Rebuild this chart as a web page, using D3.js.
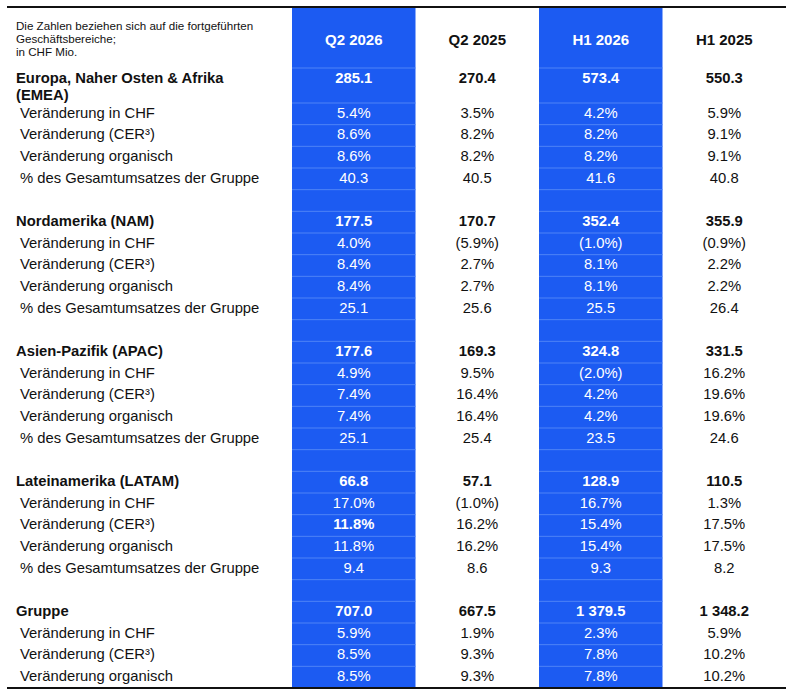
<!DOCTYPE html>
<html>
<head>
<meta charset="utf-8">
<script src="https://cdn.jsdelivr.net/npm/d3@7"></script>
<style>
  body { margin: 0; background: #fff; }
  svg text { font-family: "Liberation Sans", Arial, sans-serif; }
</style>
</head>
<body>
<div id="chart"></div>
<script>
// table content
const periods = ["Q2 2026", "Q2 2025", "H1 2026", "H1 2025"];
const regions = ["Europa, Naher Osten & Afrika (EMEA)", "Nordamerika (NAM)", "Asien-Pazifik (APAC)", "Lateinamerika (LATAM)", "Gruppe"];
const metrics = ["Veränderung in CHF", "Veränderung (CER³)", "Veränderung organisch", "% des Gesamtumsatzes der Gruppe"];
const noteLines = ["Die Zahlen beziehen sich auf die fortgeführten", "Geschäftsbereiche;", "in CHF Mio."];

// sales in CHF Mio., per period, one value per region
const salesQ2_2026 = [285.1, 177.5, 177.6, 66.8, 707.0];
const salesQ2_2025 = [270.4, 170.7, 169.3, 57.1, 667.5];
const salesH1_2026 = [573.4, 352.4, 324.8, 128.9, 1379.5];
const salesH1_2025 = [550.3, 355.9, 331.5, 110.5, 1348.2];

// change in CHF (%)
const chfQ2_2026 = [5.4, 4.0, 4.9, 17.0, 5.9];
const chfQ2_2025 = [3.5, -5.9, 9.5, -1.0, 1.9];
const chfH1_2026 = [4.2, -1.0, -2.0, 16.7, 2.3];
const chfH1_2025 = [5.9, -0.9, 16.2, 1.3, 5.9];

// change at constant exchange rates (%)
const cerQ2_2026 = [8.6, 8.4, 7.4, 11.8, 8.5];
const cerQ2_2025 = [8.2, 2.7, 16.4, 16.2, 9.3];
const cerH1_2026 = [8.2, 8.1, 4.2, 15.4, 7.8];
const cerH1_2025 = [9.1, 2.2, 19.6, 17.5, 10.2];

// organic change (%)
const orgQ2_2026 = [8.6, 8.4, 7.4, 11.8, 8.5];
const orgQ2_2025 = [8.2, 2.7, 16.4, 16.2, 9.3];
const orgH1_2026 = [8.2, 8.1, 4.2, 15.4, 7.8];
const orgH1_2025 = [9.1, 2.2, 19.6, 17.5, 10.2];

// share of group sales (%), not given for the group itself
const shareQ2_2026 = [40.3, 25.1, 25.1, 9.4];
const shareQ2_2025 = [40.5, 25.6, 25.4, 8.6];
const shareH1_2026 = [41.6, 25.5, 23.5, 9.3];
const shareH1_2025 = [40.8, 26.4, 24.6, 8.2];

const highlighted = ["Q2 2026", "H1 2026"];

const width = 794, height = 694;
const blue = "#1c5bf2";

let sales = [salesQ2_2026, salesQ2_2025, salesH1_2026, salesH1_2025];
let chf = [chfQ2_2026, chfQ2_2025, chfH1_2026, chfH1_2025];
let cer = [cerQ2_2026, cerQ2_2025, cerH1_2026, cerH1_2025];
let org = [orgQ2_2026, orgQ2_2025, orgH1_2026, orgH1_2025];
let share = [shareQ2_2026, shareQ2_2025, shareH1_2026, shareH1_2025];

let locale = d3.formatLocale({decimal: ".", thousands: "\u00a0", grouping: [3], currency: ["", ""]});
let fmtNum = locale.format(",.1f");
let fmtPct = v => v < 0 ? "(" + d3.format(".1f")(-v) + "%)" : d3.format(".1f")(v) + "%";

// build the row list
let rows = [];
rows.push({type: "header", h: 61});
regions.forEach((r, ri) => {
  if (ri > 0) rows.push({type: "spacer", h: 65 / 3});
  rows.push({type: "region", label: r, h: ri === 0 ? 35 : 65 / 3, values: sales.map(s => fmtNum(s[ri])), bold: true});
  rows.push({type: "metric", label: metrics[0], h: 65 / 3, values: chf.map(s => fmtPct(s[ri]))});
  rows.push({type: "metric", label: metrics[1], h: 65 / 3, values: cer.map(s => fmtPct(s[ri])), boldCell: ri === 3 ? 0 : -1});
  rows.push({type: "metric", label: metrics[2], h: 65 / 3, values: org.map(s => fmtPct(s[ri]))});
  if (ri < share[0].length) rows.push({type: "metric", label: metrics[3], h: 65 / 3, values: share.map(s => d3.format(".1f")(s[ri]))});
});

let tableTop = 7;
let yAcc = tableTop;
rows.forEach(r => { r.y = yAcc; yAcc += r.h; });
let tableBottom = yAcc;

let x = d3.scaleBand().domain(periods).range([292, 786]);

let svg = d3.select("#chart").append("svg")
  .attr("width", width)
  .attr("height", height);

// blue columns
svg.selectAll("rect.col")
  .data(highlighted)
  .enter()
  .append("rect")
    .attr("class", "col")
    .attr("x", d => x(d))
    .attr("y", tableTop)
    .attr("width", x.bandwidth())
    .attr("height", tableBottom - tableTop)
    .attr("fill", blue);

// faint row separators inside the blue columns
highlighted.forEach(p => {
  svg.selectAll(null)
    .data(rows.slice(1))
    .enter()
    .append("line")
      .attr("x1", x(p))
      .attr("x2", x(p) + x.bandwidth())
      .attr("y1", d => d.y)
      .attr("y2", d => d.y)
      .attr("stroke", "#4f84f6")
      .attr("stroke-width", 1);
});

// top and bottom rules
svg.append("line")
  .attr("x1", 7).attr("x2", 786)
  .attr("y1", tableTop).attr("y2", tableTop)
  .attr("stroke", "#111").attr("stroke-width", 2);
svg.append("line")
  .attr("x1", 7).attr("x2", 786)
  .attr("y1", tableBottom).attr("y2", tableBottom)
  .attr("stroke", "#111").attr("stroke-width", 2);

// header
svg.selectAll("text.note")
  .data(noteLines)
  .enter()
  .append("text")
    .attr("class", "note")
    .attr("x", 16)
    .attr("y", (d, i) => 29.5 + i * 13.4)
    .attr("font-size", "11.6px")
    .attr("fill", "#111")
    .text(d => d);

svg.selectAll("text.colhead")
  .data(periods)
  .enter()
  .append("text")
    .attr("class", "colhead")
    .attr("x", d => x(d) + x.bandwidth() / 2)
    .attr("y", 44.5)
    .attr("text-anchor", "middle")
    .attr("font-size", "15px")
    .attr("font-weight", "bold")
    .attr("fill", d => highlighted.includes(d) ? "#fff" : "#111")
    .text(d => d);

// body rows
let body = rows.filter(r => r.type === "region" || r.type === "metric");

body.forEach(r => {
  let g = svg.append("g").attr("transform", "translate(0," + r.y + ")");
  let label = g.append("text")
    .attr("x", r.type === "region" ? 16 : 20)
    .attr("y", 14.6)
    .attr("font-size", "14.8px")
    .attr("font-weight", r.type === "region" ? "bold" : "normal")
    .attr("fill", "#111");
  if (r.type === "region" && r.h > 30) {
    // EMEA label wraps onto two lines
    let parts = r.label.split(" (");
    label.append("tspan").attr("x", 16).text(parts[0]);
    label.append("tspan").attr("x", 16).attr("dy", 17.5).text("(" + parts[1]);
  } else {
    label.text(r.label);
  }

  g.selectAll("text.val")
    .data(r.values)
    .enter()
    .append("text")
      .attr("class", "val")
      .attr("x", (d, i) => x(periods[i]) + x.bandwidth() / 2)
      .attr("y", 14.6)
      .attr("text-anchor", "middle")
      .attr("font-size", "14.8px")
      .attr("font-weight", (d, i) => r.bold || r.boldCell === i ? "bold" : "normal")
      .attr("fill", (d, i) => highlighted.includes(periods[i]) ? "#fff" : "#111")
      .text(d => d);
});
</script>
</body>
</html>
